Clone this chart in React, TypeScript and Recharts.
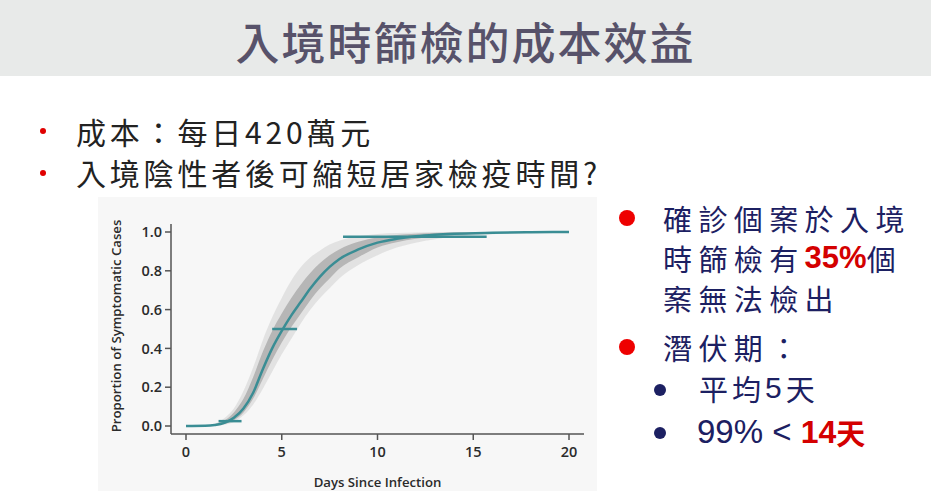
import React from "react";
import {
  ComposedChart,
  Line,
  Area,
  XAxis,
  YAxis,
  ReferenceLine,
  Label,
} from "recharts";

// days since infection (x)
const days = [0, 1, 1.5, 2, 2.5, 3, 3.5, 4, 4.5, 5, 5.5, 6, 6.5, 7, 7.5, 8, 9, 10, 11, 12, 13, 14, 16, 18, 20];
// fitted cumulative proportion (teal line)
const fitted = [0, 0.001, 0.005, 0.016, 0.042, 0.09, 0.17, 0.29, 0.4, 0.49, 0.57, 0.64, 0.71, 0.77, 0.82, 0.86, 0.91, 0.945, 0.965, 0.978, 0.986, 0.991, 0.996, 0.999, 1];
// bootstrap curve envelope (outer, faint)
const outerHigh = [0, 0.003, 0.012, 0.04, 0.09, 0.18, 0.3, 0.44, 0.56, 0.66, 0.75, 0.82, 0.87, 0.905, 0.935, 0.955, 0.978, 0.99, 0.995, 0.998, 1, 1, 1, 1, 1];
const outerLow = [0, 0, 0.001, 0.006, 0.02, 0.055, 0.11, 0.19, 0.28, 0.37, 0.45, 0.53, 0.6, 0.66, 0.71, 0.76, 0.83, 0.88, 0.92, 0.945, 0.963, 0.975, 0.988, 0.995, 1];
// bootstrap curve envelope (inner, dense)
const innerHigh = [0, 0.002, 0.009, 0.028, 0.07, 0.14, 0.25, 0.38, 0.49, 0.58, 0.66, 0.73, 0.79, 0.84, 0.88, 0.91, 0.95, 0.972, 0.984, 0.991, 0.995, 0.997, 0.999, 1, 1];
const innerLow = [0, 0, 0.003, 0.01, 0.03, 0.07, 0.14, 0.24, 0.34, 0.43, 0.51, 0.58, 0.65, 0.71, 0.76, 0.81, 0.87, 0.92, 0.947, 0.965, 0.977, 0.985, 0.993, 0.998, 1];

// percentile confidence bars: proportion, lower day, upper day
const barLevels = [0.025, 0.5, 0.975];
const barLow = [1.7, 4.5, 8.2];
const barHigh = [2.9, 5.8, 15.7];

const xTicks = [0, 5, 10, 15, 20];
const yTicks = [0, 0.2, 0.4, 0.6, 0.8, 1.0];

const chartData = days.map((d, i) => ({
  day: d,
  fitted: fitted[i],
  outer: [outerLow[i], outerHigh[i]],
  inner: [innerLow[i], innerHigh[i]],
}));

const TEAL = "#3a8d94";
const AXIS = "#555";
const NAVY = "#1c2062";
const RED = "#d40000";

const tickStyle = { fontFamily: "'Open Sans'", fontWeight: 600, fontSize: 14.5, fill: "#2b2b2b" };
const labelStyle = { fontFamily: "'Open Sans'", fontWeight: 600, fontSize: 13.2, fill: "#2b2b2b" };

function SlideChart() {
  return (
    <ComposedChart
      width={499}
      height={294}
      data={chartData}
      margin={{ top: 27, right: 13, bottom: 27, left: 28 }}
    >
      <XAxis
        type="number"
        dataKey="day"
        domain={[0, 20]}
        ticks={xTicks}
        padding={{ left: 15, right: 15 }}
        height={30}
        tickSize={6}
        tickMargin={7}
        stroke={AXIS}
        strokeWidth={1.5}
        tick={tickStyle}
      >
        <Label
          content={({ viewBox }: any) => (
            <text
              x={viewBox.x + viewBox.width / 2}
              y={viewBox.y + 53}
              textAnchor="middle"
              style={labelStyle}
            >
              Days Since Infection
            </text>
          )}
        />
      </XAxis>
      <YAxis
        type="number"
        domain={[0, 1]}
        ticks={yTicks}
        tickFormatter={(v: number) => v.toFixed(1)}
        padding={{ top: 8, bottom: 8 }}
        width={45}
        tickSize={6}
        tickMargin={3}
        stroke={AXIS}
        strokeWidth={1.5}
        tick={tickStyle}
      >
        <Label
          content={({ viewBox }: any) => {
            const cx = viewBox.x - 9;
            const cy = viewBox.y + viewBox.height / 2 - 3;
            return (
              <text
                x={cx}
                y={cy}
                transform={`rotate(-90, ${cx}, ${cy})`}
                textAnchor="middle"
                dominantBaseline="middle"
                style={labelStyle}
              >
                Proportion of Symptomatic Cases
              </text>
            );
          }}
        />
      </YAxis>
      <Area
        type="monotone"
        dataKey="outer"
        stroke="none"
        fill="#c4c4c4"
        fillOpacity={0.4}
        isAnimationActive={false}
      />
      <Area
        type="monotone"
        dataKey="inner"
        stroke="none"
        fill="#8a8a8a"
        fillOpacity={0.5}
        isAnimationActive={false}
      />
      <Line
        type="monotone"
        dataKey="fitted"
        stroke={TEAL}
        strokeWidth={2.5}
        dot={false}
        isAnimationActive={false}
      />
      {barLevels.map((p, i) => (
        <ReferenceLine
          key={p}
          segment={[
            { x: barLow[i], y: p },
            { x: barHigh[i], y: p },
          ]}
          stroke={TEAL}
          strokeWidth={2.5}
        />
      ))}
    </ComposedChart>
  );
}

const abs = (left: number, top: number): React.CSSProperties => ({
  position: "absolute",
  left,
  top,
  height: 32,
  whiteSpace: "nowrap",
});

const dot = (left: number, top: number, size: number, color: string): React.CSSProperties => ({
  position: "absolute",
  left: left - size / 2,
  top: top - size / 2,
  width: size,
  height: size,
  borderRadius: "50%",
  background: color,
});

export default function App() {
  const cjk = "'Noto Sans CJK TC'";
  const leftText: React.CSSProperties = {
    fontFamily: cjk,
    fontSize: 30,
    lineHeight: "32px",
    letterSpacing: 3.8,
    color: "#222",
  };
  const rightText: React.CSSProperties = {
    fontFamily: cjk,
    fontSize: 29,
    lineHeight: "32px",
    letterSpacing: 6.4,
    color: NAVY,
  };
  const span = (extra: React.CSSProperties): React.CSSProperties => ({
    lineHeight: "32px",
    verticalAlign: "top",
    ...extra,
  });
  const redBold: React.CSSProperties = {
    fontFamily: "'Liberation Sans'",
    fontWeight: 700,
    color: RED,
    letterSpacing: 0,
  };
  return (
    <div
      style={{
        position: "absolute",
        left: 0,
        top: 0,
        width: 931,
        height: 491,
        background: "#fff",
        overflow: "hidden",
      }}
    >
      <div
        style={{
          position: "absolute",
          left: 0,
          top: 0,
          width: 931,
          height: 76,
          background: "#e8eae9",
        }}
      />
      <div
        style={{
          position: "absolute",
          left: 0,
          top: 0,
          width: 931,
          height: 82,
          lineHeight: "82px",
          textAlign: "center",
          fontFamily: cjk,
          fontSize: 44,
          fontWeight: 500,
          letterSpacing: 2,
          color: "#57526a",
        }}
      >
        入境時篩檢的成本效益
      </div>

      <div style={dot(43, 131, 6, "#e00000")} />
      <div style={{ ...abs(76, 115), ...leftText }}>成本：每日420萬元</div>
      <div style={dot(43, 173, 6, "#e00000")} />
      <div style={{ ...abs(76, 156), ...leftText }}>入境陰性者後可縮短居家檢疫時間?</div>

      <div style={{ position: "absolute", left: 98, top: 197, width: 499, height: 294, background: "#f7f7f7" }}>
        <SlideChart />
      </div>

      <div style={dot(627, 218, 16, "#ee0000")} />
      <div style={{ ...abs(663, 202), ...rightText }}>確診個案於入境</div>
      <div style={{ ...abs(663, 242), ...rightText }}>
        時篩檢有<span style={span({ ...redBold, fontSize: 31 })}>35%</span>個
      </div>
      <div style={{ ...abs(663, 282), ...rightText }}>案無法檢出</div>
      <div style={dot(627, 347, 16, "#ee0000")} />
      <div style={{ ...abs(663, 331), ...rightText }}>潛伏期：</div>
      <div style={dot(660, 390, 12, NAVY)} />
      <div style={{ ...abs(699, 372), ...rightText, letterSpacing: 4 }}>
        平均<span style={span({ fontFamily: "'Liberation Sans'", fontSize: 30 })}>5</span>天
      </div>
      <div style={dot(660, 433, 12, NAVY)} />
      <div style={{ ...abs(697, 416), ...rightText, letterSpacing: 0 }}>
        <span style={span({ fontFamily: "'Liberation Sans'", fontSize: 33 })}>99% &lt; </span>
        <span style={span({ ...redBold, fontSize: 32 })}>14</span>
        <span style={span({ color: RED, fontWeight: 700, fontSize: 29 })}>天</span>
      </div>
    </div>
  );
}
